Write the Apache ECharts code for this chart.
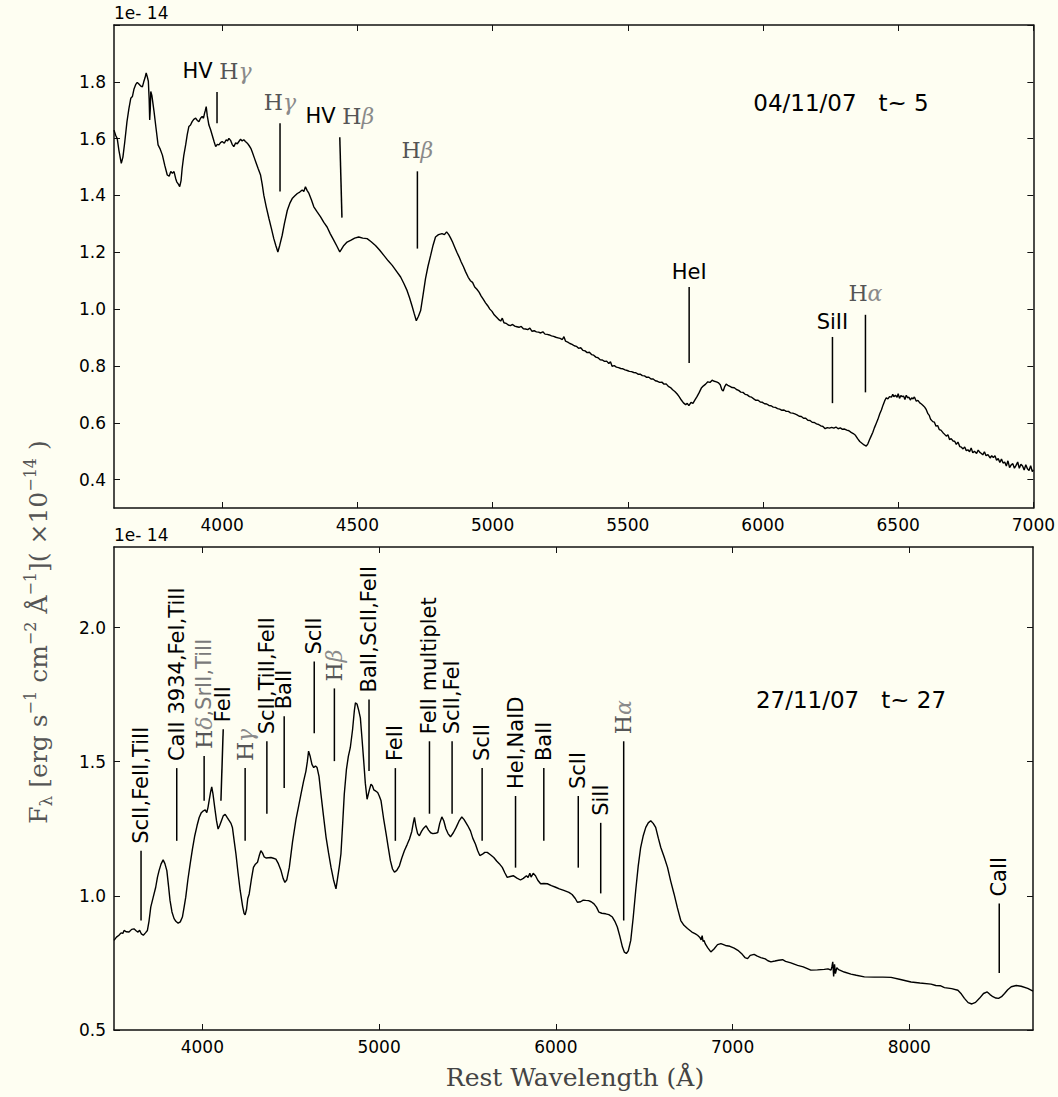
<!DOCTYPE html>
<html><head><meta charset="utf-8">
<script src="https://cdn.jsdelivr.net/npm/echarts@6/dist/echarts.min.js"></script>
<style>html,body{margin:0;padding:0;background:#fefef2}#c{width:1058px;height:1097px}</style>
</head><body><div id="c"></div>
<script>
// ---------- DATA ----------
const topWavelength = [3600,3606,3612,3618,3627,3633,3640,3648,3655,3662,3668,3674,3680,3686,3692,3698,3705,3710,3715,3719,3723,3727,3730,3732,3734,3736,3740,3748,3755,3763,3770,3779,3788,3797,3804,3810,3816,3822,3828,3832,3838,3843,3848,3852,3858,3865,3871,3877,3883,3889,3895,3902,3908,3914,3920,3926,3931,3935,3938,3941,3945,3951,3957,3963,3970,3976,3982,3988,3994,4000,4008,4015,4020,4025,4031,4037,4043,4050,4056,4062,4068,4074,4080,4086,4093,4100,4106,4111,4118,4124,4133,4142,4148,4154,4163,4173,4182,4191,4199,4206,4213,4222,4230,4241,4250,4259,4268,4278,4287,4296,4302,4308,4314,4321,4330,4339,4350,4364,4376,4388,4400,4413,4424,4435,4442,4450,4462,4475,4490,4505,4520,4536,4550,4567,4582,4598,4614,4629,4645,4660,4672,4684,4693,4702,4710,4718,4726,4734,4743,4752,4761,4771,4780,4789,4800,4813,4822,
4830,4838,4845,4852,4860,4868,4876,4884,4892,4900,4910,4918,4926,4934,4942,4950,4958,4966,4974,4982,4990,4998,5006,5014,5022,5030,5036,5042,5050,5058,5066,5074,5082,5090,5098,5106,5114,5122,5130,5138,5146,5154,5162,5170,5178,5186,5194,5202,5210,5218,5226,5234,5242,5250,5258,5264,5270,5278,5286,5294,5302,5310,5318,5326,5334,5342,5350,5358,5366,5374,5382,5390,5398,5406,5414,5422,5430,5436,5442,5450,5458,5466,5474,5482,5490,5498,5506,5514,5522,5530,5538,5546,5554,5562,5570,5578,5586,5594,5602,5610,5618,5626,5634,5642,5650,5658,5666,5674,5682,5690,5698,5706,5714,5720,5726,5734,5741,5748,5756,5764,5772,5780,5788,5796,5804,5812,5820,5828,5836,5842,5848,5853,5858,5864,5870,5878,5886,5894,5902,5910,5918,5926,5934,5942,5950,5958,5966,5974,5982,5990,5998,6006,6014,6022,6030,6038,6046,6054,6062,6070,6078,6086,6094,6102,6110,6118,6126,6134,6142,6150,6158,6166,6174,6182,6190,6198,6206,6214,6222,6230,6238,6246,6254,6262,6270,6278,6286,6294,6302,6310,6318,6326,6334,6342,6350,6358,6366,6374,6382,6388,6394,6400,6406,6412,6418,6425,6432,6438,6444,
6450,6456,6462,6468,6475,6480,6484,6490,6496,6500,6505,6510,6515,6520,6525,6530,6535,6540,6545,6550,6555,6560,6567,6573,6580,6586,6592,6598,6604,6610,6615,6620,6628,6634,6640,6646,6652,6658,6665,6671,6678,6684,6690,6696,6703,6709,6715,6721,6728,6734,6740,6746,6752,6758,6764,6770,6776,6782,6790,6796,6802,6808,6813,6819,6825,6832,6840,6846,6852,6858,6864,6870,6876,6882,6888,6894,6900,6906,6912,6918,6924,6930,6936,6942,6948,6954,6960,6966,6972,6978,6984,6990,6996,7000];
const topFlux = [1.630,1.612,1.600,1.560,1.513,1.535,1.590,1.660,1.705,1.742,1.748,1.775,1.790,1.798,1.792,1.786,1.782,1.800,1.815,1.831,1.818,1.802,1.740,1.666,1.700,1.766,1.752,1.696,1.640,1.578,1.565,1.542,1.505,1.472,1.468,1.484,1.478,1.484,1.460,1.448,1.440,1.431,1.452,1.495,1.540,1.578,1.615,1.643,1.648,1.660,1.668,1.672,1.664,1.660,1.672,1.678,1.672,1.690,1.700,1.713,1.680,1.648,1.632,1.613,1.590,1.572,1.580,1.578,1.586,1.590,1.584,1.596,1.592,1.601,1.594,1.580,1.572,1.585,1.582,1.590,1.598,1.592,1.596,1.590,1.584,1.575,1.566,1.554,1.535,1.519,1.495,1.472,1.440,1.401,1.360,1.319,1.284,1.248,1.222,1.201,1.225,1.260,1.300,1.348,1.372,1.389,1.398,1.407,1.412,1.419,1.414,1.431,1.418,1.407,1.385,1.360,1.344,1.325,1.305,1.289,1.265,1.242,1.222,1.201,1.212,1.224,1.236,1.242,1.250,1.254,1.250,1.248,1.238,1.224,1.208,1.189,1.170,1.154,1.133,1.113,1.090,1.065,1.040,1.012,0.985,0.959,0.975,0.995,1.050,1.107,1.150,1.189,1.225,1.254,1.262,1.266,1.262,
1.272,1.262,1.250,1.236,1.218,1.200,1.184,1.166,1.150,1.132,1.112,1.100,1.094,1.078,1.070,1.060,1.046,1.034,1.022,1.012,1.000,0.992,0.980,0.972,0.964,0.958,0.968,0.952,0.950,0.944,0.942,0.946,0.940,0.938,0.936,0.939,0.931,0.930,0.928,0.933,0.922,0.924,0.920,0.919,0.916,0.920,0.912,0.911,0.909,0.906,0.904,0.901,0.899,0.897,0.893,0.903,0.887,0.884,0.879,0.876,0.871,0.869,0.862,0.864,0.855,0.853,0.847,0.848,0.840,0.838,0.831,0.829,0.822,0.821,0.816,0.817,0.808,0.815,0.799,0.801,0.796,0.794,0.791,0.790,0.786,0.784,0.781,0.780,0.777,0.776,0.771,0.771,0.766,0.765,0.760,0.760,0.754,0.754,0.748,0.746,0.742,0.743,0.736,0.737,0.728,0.724,0.716,0.710,0.702,0.692,0.680,0.670,0.664,0.668,0.660,0.672,0.668,0.680,0.692,0.706,0.722,0.730,0.736,0.744,0.742,0.750,0.746,0.744,0.740,0.734,0.716,0.712,0.726,0.736,0.732,0.728,0.724,0.723,0.717,0.714,0.708,0.707,0.700,0.698,0.692,0.690,0.684,0.679,0.679,0.673,0.672,0.667,0.666,0.661,0.660,0.655,0.654,0.650,0.648,0.644,0.645,0.640,0.640,0.635,0.634,0.631,0.628,0.623,0.622,0.616,0.616,0.609,0.608,0.602,0.601,0.596,0.594,0.589,0.587,0.579,0.583,0.581,0.584,0.581,0.585,0.579,0.582,0.577,0.578,0.574,0.572,0.566,0.562,0.556,0.544,0.534,0.528,0.522,0.518,0.526,0.540,0.553,0.566,0.582,0.596,0.612,0.632,0.645,0.662,
0.677,0.688,0.684,0.692,0.690,0.700,0.692,0.697,0.690,0.702,0.686,0.696,0.692,0.694,0.682,0.697,0.688,0.690,0.680,0.688,0.684,0.691,0.676,0.679,0.670,0.666,0.661,0.655,0.646,0.632,0.626,0.612,0.604,0.602,0.588,0.590,0.576,0.574,0.566,0.560,0.553,0.558,0.541,0.544,0.536,0.535,0.524,0.532,0.516,0.514,0.508,0.515,0.502,0.505,0.498,0.511,0.494,0.500,0.492,0.504,0.496,0.492,0.487,0.498,0.484,0.488,0.476,0.484,0.478,0.484,0.468,0.474,0.460,0.472,0.458,0.462,0.448,0.466,0.442,0.452,0.456,0.440,0.450,0.462,0.440,0.454,0.448,0.434,0.452,0.438,0.432,0.449,0.428,0.434];

const bottomWavelength = [3500,3514,3528,3540,3550,3557,3570,3585,3600,3613,3625,3636,3645,3655,3666,3678,3689,3698,3708,3722,3736,3746,3755,3766,3778,3788,3799,3808,3817,3828,3840,3850,3863,3875,3887,3896,3906,3918,3931,3944,3957,3970,3982,3994,4006,4016,4025,4032,4038,4046,4053,4060,4070,4080,4089,4098,4108,4118,4129,4140,4152,4162,4170,4180,4190,4202,4214,4228,4236,4242,4250,4257,4265,4277,4289,4300,4312,4322,4331,4340,4350,4360,4374,4388,4402,4416,4430,4445,4457,4467,4478,4492,4510,4530,4545,4558,4572,4586,4594,4601,4610,4620,4630,4640,4649,4660,4671,4685,4700,4714,4728,4742,4756,4766,4775,4784,4794,4803,4815,4826,4837,4850,4860,4866,4875,4885,4894,4904,4913,4922,4932,4945,4954,4962,4970,4982,4992,5001,5011,5025,5040,5052,5064,5076,5087,5100,5115,5128,5143,5158,5172,5185,5193,5200,5208,5218,5228,5240,5252,5266,5280,5292,5304,5318,5332,5343,5355,5366,5378,5390,5404,5420,5436,5452,5468,5480,5492,5502,5517,5530,5545,5558,5570,5585,5598,5612,5630,5649,5665,5680,5697,5712,5725,5742,5759,5780,5800,5816,5834,5843,5853,5860,5872,5885,5898,5914,5932,5952,5975,5999,6020,6045,6074,6092,6110,6122,6140,6155,6169,6185,6200,6216,6230,6244,6260,6282,6300,6320,6334,6348,6362,6377,6388,6399,6410,6424,6438,6452,6466,6480,6495,6509,6523,6537,6551,6565,6580,6594,6613,6632,6650,6669,6688,6707,6725,6745,6770,6790,6802,6815,6822,6828,6833,6839,6845,6860,6877,6895,6915,6934,6960,6985,7009,7030,7055,7070,7085,7100,7122,7140,7160,7185,7200,7217,7240,7260,7283,7300,7330,7368,7400,7443,7480,7519,7540,7557,7562,7567,7572,7577,7582,7590,7600,7632,7670,7700,7746,7800,7850,7897,7950,8010,8060,8123,8150,8175,8199,8240,8275,8295,8312,8333,8354,8375,8397,8420,8441,8457,8473,8490,8505,8522,8539,8557,8577,8605,8633,8670,8700];
const bottomFlux = [0.834,0.846,0.853,0.862,0.860,0.871,0.866,0.865,0.875,0.877,0.870,0.865,0.872,0.858,0.853,0.862,0.871,0.905,0.958,0.995,1.032,1.070,1.094,1.118,1.134,1.120,1.094,1.040,0.983,0.940,0.915,0.905,0.898,0.903,0.921,0.955,0.995,1.060,1.119,1.175,1.224,1.262,1.292,1.310,1.317,1.320,1.310,1.330,1.354,1.385,1.406,1.380,1.329,1.280,1.249,1.262,1.280,1.298,1.304,1.292,1.280,1.270,1.255,1.205,1.156,1.085,1.020,0.960,0.935,0.929,0.950,0.990,1.007,1.060,1.106,1.118,1.125,1.150,1.168,1.160,1.145,1.141,1.142,1.143,1.140,1.137,1.120,1.094,1.065,1.050,1.060,1.106,1.200,1.286,1.335,1.379,1.425,1.465,1.500,1.539,1.520,1.490,1.478,1.484,1.478,1.445,1.379,1.300,1.218,1.160,1.106,1.060,1.026,1.070,1.110,1.156,1.270,1.379,1.470,1.520,1.552,1.620,1.690,1.719,1.715,1.690,1.663,1.580,1.502,1.420,1.360,1.395,1.416,1.410,1.395,1.390,1.385,1.372,1.354,1.290,1.230,1.180,1.131,1.100,1.088,1.095,1.112,1.140,1.168,1.190,1.212,1.240,1.270,1.292,1.260,1.232,1.224,1.240,1.252,1.261,1.245,1.235,1.232,1.233,1.236,1.270,1.294,1.280,1.250,1.232,1.220,1.235,1.255,1.278,1.294,1.285,1.272,1.261,1.242,1.215,1.193,1.168,1.150,1.155,1.162,1.162,1.153,1.143,1.130,1.120,1.106,1.085,1.069,1.072,1.075,1.066,1.059,1.065,1.075,1.068,1.084,1.070,1.084,1.075,1.058,1.045,1.046,1.045,1.038,1.032,1.026,1.020,1.013,1.005,0.990,0.976,0.978,0.984,0.983,0.982,0.978,0.970,0.958,0.939,0.935,0.933,0.930,0.921,0.905,0.884,0.850,0.809,0.790,0.785,0.795,0.834,0.920,1.020,1.110,1.180,1.225,1.255,1.272,1.280,1.270,1.255,1.215,1.180,1.145,1.106,1.055,1.007,0.955,0.908,0.890,0.878,0.865,0.858,0.853,0.845,0.836,0.852,0.830,0.834,0.822,0.806,0.791,0.802,0.818,0.822,0.815,0.812,0.805,0.797,0.782,0.770,0.766,0.778,0.782,0.775,0.770,0.765,0.758,0.754,0.757,0.760,0.762,0.756,0.750,0.741,0.735,0.723,0.724,0.726,0.728,0.723,0.735,0.754,0.700,0.745,0.710,0.732,0.725,0.716,0.708,0.704,0.698,0.697,0.697,0.696,0.688,0.679,0.675,0.671,0.666,0.665,0.658,0.654,0.648,0.634,0.618,0.602,0.597,0.603,0.618,0.636,0.642,0.632,0.624,0.619,0.618,0.624,0.636,0.650,0.661,0.666,0.663,0.655,0.645];

const topTickX = [4000,4500,5000,5500,6000,6500,7000];
const topTickY = [0.4,0.6,0.8,1.0,1.2,1.4,1.6,1.8,2.0];
const topLabelY = [0.4,0.6,0.8,1.0,1.2,1.4,1.6,1.8];
const bottomTickX = [4000,5000,6000,7000,8000];
const bottomTickY = [0.5,1.0,1.5,2.0];

const topLineLabels = ['HV Hγ','Hγ','HV Hβ','Hβ','HeI','SiII','Hα'];
const topLineWlTop = [3981,4214,4435,4722,5727,6257,6379];
const topLineWlBottom = [3981,4214,4443,4722,5727,6257,6379];
const topLineFluxTop = [1.764,1.654,1.605,1.485,1.078,0.902,0.980];
const topLineFluxBottom = [1.654,1.414,1.322,1.213,0.810,0.669,0.707];

const bottomLineLabels = ['ScII,FeII,TiII','CaII 3934,FeI,TiII','Hδ,SrII,TiII','FeII','Hγ','ScII,TiII,FeII','BaII','ScII','Hβ','BaII,ScII,FeII','FeII','FeII multiplet','ScII,FeI','ScII','HeI,NaID','BaII','ScII','SiII','Hα','CaII'];
const bottomLineWlTop = [3653,3855,4010,4118,4242,4365,4463,4633,4747,4943,5092,5285,5413,5583,5772,5932,6127,6254,6384,8509];
const bottomLineWlBottom = [3653,3855,4010,4105,4242,4365,4463,4633,4747,4943,5092,5285,5413,5583,5772,5932,6127,6254,6384,8509];
const bottomLineFluxTop = [1.168,1.476,1.521,1.621,1.476,1.576,1.669,1.873,1.773,1.732,1.476,1.576,1.576,1.476,1.372,1.476,1.372,1.272,1.576,0.971];
const bottomLineFluxBottom = [0.908,1.205,1.354,1.354,1.205,1.306,1.402,1.606,1.502,1.465,1.205,1.306,1.306,1.205,1.105,1.205,1.105,1.009,0.908,0.712];

const topEpoch = '04/11/07   t~ 5';
const bottomEpoch = '27/11/07   t~ 27';
const scaleNote = '1e- 14';

// ---------- CHART ----------
const SANS = 'DejaVu Sans';
const SERIF = 'DejaVu Serif';
const zip = (a, b) => a.map((v, i) => [v, b[i]]);

const annotRich = {
  t:  {fontFamily: SANS, fontSize: 21, fill: '#000'},
  tg: {fontFamily: SANS, fontSize: 21, fill: '#7a7a7a'},
  hs: {fontFamily: SERIF, fontSize: 22, fill: '#555'},
  gr: {fontFamily: SERIF, fontStyle: 'italic', fontSize: 22, fill: '#8a8a8a'}
};
function richify(s) {
  const grey = s.startsWith('Hδ');
  const re = /H([αβγδ])/g;
  let out = '', last = 0, m;
  while ((m = re.exec(s))) {
    if (m.index > last) out += '{' + (grey ? 'tg' : 't') + '|' + s.slice(last, m.index) + '}';
    out += '{hs|H}{gr|' + m[1] + '}';
    last = m.index + m[0].length;
  }
  if (last < s.length) out += '{' + (grey ? 'tg' : 't') + '|' + s.slice(last) + '}';
  return out;
}

function annotSeries(idx, labels, wlT, wlB, fT, fB, vertical) {
  return {
    type: 'custom', xAxisIndex: idx * 2, yAxisIndex: idx * 2, clip: false, silent: true,
    data: labels.map((l, i) => [wlT[i], fT[i], wlB[i], fB[i]]),
    renderItem: function (params, api) {
      const p1 = api.coord([api.value(0), api.value(1)]);
      const p2 = api.coord([api.value(2), api.value(3)]);
      const lab = labels[params.dataIndex];
      const greek = /H[αβγδ]/.test(lab);
      const children = [{
        type: 'line', shape: {x1: p1[0], y1: p1[1], x2: p2[0], y2: p2[1]},
        style: {stroke: '#000', lineWidth: 1.5}
      }];
      if (vertical) {
        children.push({type: 'text', x: p1[0], y: p1[1] - 7, rotation: Math.PI / 2,
          style: {text: richify(lab), rich: annotRich, align: 'left', verticalAlign: 'middle'}});
      } else {
        children.push({type: 'text', x: p1[0], y: p1[1] - (greek ? 10 : 4),
          style: {text: richify(lab), rich: annotRich, align: 'center', verticalAlign: 'bottom'}});
      }
      return {type: 'group', children};
    }
  };
}

function xAxes(grid, min, max, ticks) {
  const base = {
    type: 'value', gridIndex: grid, min, max, splitLine: {show: false},
    axisLine: {onZero: false, lineStyle: {color: '#111', width: 1.5}},
    axisTick: {inside: true, length: 6, customValues: ticks, lineStyle: {color: '#111', width: 1}}
  };
  return [
    Object.assign({}, base, {position: 'bottom',
      axisLabel: {customValues: ticks, color: '#000', fontFamily: SANS, fontSize: 17, margin: 8,
        formatter: v => String(Math.round(v))}}),
    Object.assign({}, base, {position: 'top', axisLabel: {show: false}})
  ];
}
function yAxes(grid, min, max, ticks, labels) {
  const base = {
    type: 'value', gridIndex: grid, min, max, splitLine: {show: false},
    axisLine: {onZero: false, lineStyle: {color: '#111', width: 1.5}},
    axisTick: {inside: true, length: 6, customValues: ticks, lineStyle: {color: '#111', width: 1}}
  };
  return [
    Object.assign({}, base, {position: 'left',
      name: scaleNote, nameLocation: 'end', nameGap: 4,
      nameTextStyle: {align: 'left', verticalAlign: 'bottom', color: '#000', fontFamily: SANS, fontSize: 17},
      axisLabel: {customValues: labels, color: '#000', fontFamily: SANS, fontSize: 17, margin: 8,
        formatter: v => v.toFixed(1)}}),
    Object.assign({}, base, {position: 'right', axisLabel: {show: false}})
  ];
}

const tx = xAxes(0, 3600, 7000, topTickX), bx = xAxes(1, 3500, 8700, bottomTickX);
const ty = yAxes(0, 0.3, 2.0, topTickY, topLabelY), by = yAxes(1, 0.5, 2.3, bottomTickY, bottomTickY);

const ylabRich = {
  m:   {fontFamily: SERIF, fontSize: 25, lineHeight: 32, fill: '#555'},
  sub: {fontFamily: SERIF, fontSize: 17, lineHeight: 17, fill: '#555', verticalAlign: 'bottom'},
  sup: {fontFamily: SERIF, fontSize: 16, lineHeight: 16, fill: '#555', verticalAlign: 'top'}
};

const chart = echarts.init(document.getElementById('c'), null, {renderer: 'svg'});
chart.setOption({
  backgroundColor: '#fefef2',
  animation: false,
  grid: [
    {left: 114, top: 25, width: 920, height: 483},
    {left: 114, top: 547, width: 919, height: 483}
  ],
  xAxis: [tx[0], tx[1], bx[0], bx[1]],
  yAxis: [ty[0], ty[1], by[0], by[1]],
  series: [
    {type: 'line', xAxisIndex: 0, yAxisIndex: 0, data: zip(topWavelength, topFlux), symbol: 'none',
      lineStyle: {color: '#000', width: 1.4}, silent: true},
    {type: 'line', xAxisIndex: 2, yAxisIndex: 2, data: zip(bottomWavelength, bottomFlux), symbol: 'none',
      lineStyle: {color: '#000', width: 1.4}, silent: true},
    annotSeries(0, topLineLabels, topLineWlTop, topLineWlBottom, topLineFluxTop, topLineFluxBottom, false),
    annotSeries(1, bottomLineLabels, bottomLineWlTop, bottomLineWlBottom, bottomLineFluxTop, bottomLineFluxBottom, true)
  ],
  graphic: [
    {type: 'text', x: 841, y: 103, style: {text: topEpoch, fontFamily: SANS, fontSize: 23, fill: '#000', align: 'center', verticalAlign: 'middle'}},
    {type: 'text', x: 851, y: 700, style: {text: bottomEpoch, fontFamily: SANS, fontSize: 23, fill: '#000', align: 'center', verticalAlign: 'middle'}},
    {type: 'text', x: 38, y: 632, rotation: Math.PI / 2,
      style: {text: '{m|F}{sub|λ}{m| [erg s}{sup|−1}{m| cm}{sup|−2}{m| Å}{sup|−1}{m|]( ×10}{sup|−14}{m| )}',
        rich: ylabRich, align: 'center', verticalAlign: 'middle'}},
    {type: 'text', x: 575, y: 1077, style: {text: 'Rest Wavelength (Å)', fontFamily: SERIF, fontSize: 25, fill: '#444', align: 'center', verticalAlign: 'middle'}}
  ]
});
</script></body></html>
